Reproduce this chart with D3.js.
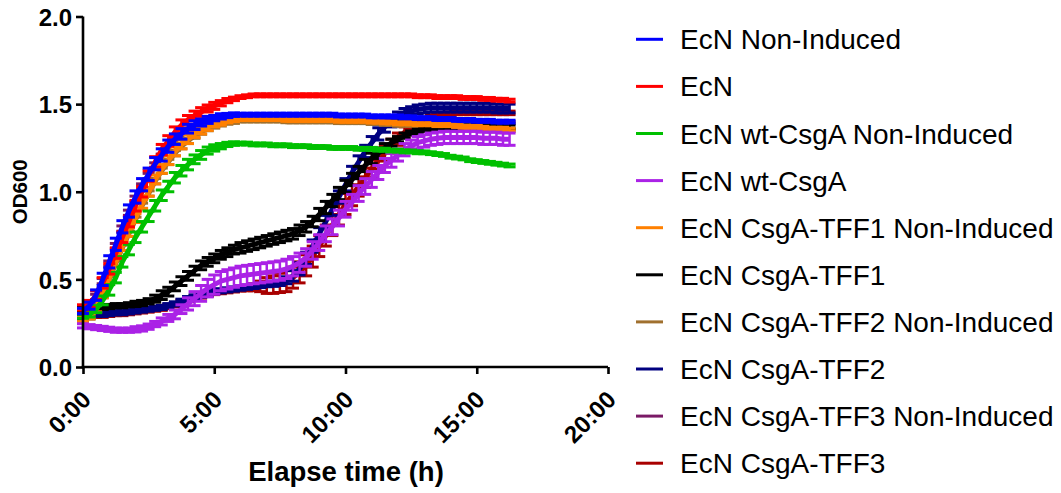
<!DOCTYPE html>
<html>
<head>
<meta charset="utf-8">
<script src="https://cdn.jsdelivr.net/npm/d3@7"></script>
<style>
  html, body { margin: 0; padding: 0; background: #fff; }
  svg { display: block; }
</style>
</head>
<body>
<svg id="chart" width="1061" height="493"></svg>
<script>
// ---------------- DATA ----------------
const hours = [0,0.25,0.5,0.75,1,1.25,1.5,1.75,2,2.25,2.5,2.75,3,3.25,3.5,3.75,4,4.25,4.5,4.75,5,5.25,5.5,5.75,
  6,6.25,6.5,6.75,7,7.25,7.5,7.75,8,8.25,8.5,8.75,9,9.25,9.5,9.75,10,10.25,10.5,10.75,11,11.25,11.5,11.75,
  12,12.25,12.5,12.75,13,13.25,13.5,13.75,14,14.25,14.5,14.75,15,15.25,15.5,15.75,16,16.25];

const seriesNames = ["EcN Non-Induced","EcN","EcN wt-CsgA Non-Induced","EcN wt-CsgA","EcN CsgA-TFF1 Non-Induced",
  "EcN CsgA-TFF1","EcN CsgA-TFF2 Non-Induced","EcN CsgA-TFF2","EcN CsgA-TFF3 Non-Induced","EcN CsgA-TFF3"];
const seriesColors = ["#0000ff","#ff0000","#00c000","#aa22e6","#ff8000","#000000","#a0702e","#000080","#7a1a66","#a80000"];

const ecnNI = [0.32,0.35,0.41,0.50,0.60,0.70,0.80,0.89,0.97,1.04,1.10,1.16,1.21,1.26,1.30,1.33,1.36,1.38,1.395,1.41,1.42,1.43,1.435,1.44,
  1.44,1.44,1.44,1.44,1.44,1.44,1.44,1.44,1.44,1.44,1.44,1.44,1.44,1.44,1.44,1.435,1.435,1.435,1.435,1.435,1.43,1.43,1.43,1.43,
  1.43,1.425,1.425,1.42,1.42,1.42,1.415,1.415,1.415,1.41,1.41,1.41,1.405,1.405,1.405,1.40,1.40,1.40];
const ecnNIErr = [0.015,0.02,0.03,0.035,0.035,0.035,0.035,0.035,0.035,0.035,0.035,0.035,0.035,0.035,0.03,0.03,0.025,0.025,0.02,0.02,0.015,0.015,0.012,0.01,
  0.008,0.008,0.008,0.008,0.008,0.008,0.008,0.008,0.008,0.008,0.008,0.008,0.008,0.008,0.008,0.008,0.008,0.008,0.008,0.008,0.008,0.008,0.008,0.008,
  0.008,0.008,0.008,0.008,0.008,0.008,0.008,0.008,0.008,0.008,0.008,0.008,0.008,0.008,0.008,0.008,0.008,0.008];

const ecn = [0.34,0.36,0.41,0.48,0.56,0.65,0.74,0.83,0.92,1.00,1.09,1.17,1.24,1.29,1.34,1.38,1.41,1.435,1.455,1.475,1.49,1.505,1.52,1.53,
  1.54,1.545,1.55,1.55,1.55,1.55,1.55,1.55,1.55,1.55,1.55,1.55,1.55,1.55,1.55,1.55,1.55,1.55,1.55,1.55,1.55,1.55,1.55,1.55,
  1.55,1.55,1.55,1.545,1.545,1.545,1.54,1.54,1.54,1.54,1.535,1.535,1.535,1.53,1.53,1.525,1.525,1.52];
const ecnErr = [0.015,0.02,0.025,0.03,0.03,0.03,0.03,0.03,0.03,0.03,0.03,0.03,0.03,0.03,0.03,0.03,0.025,0.025,0.025,0.02,0.02,0.015,0.012,0.01,
  0.008,0.008,0.008,0.008,0.008,0.008,0.008,0.008,0.008,0.008,0.008,0.008,0.008,0.008,0.008,0.008,0.008,0.008,0.008,0.008,0.008,0.008,0.008,0.008,
  0.008,0.008,0.008,0.008,0.008,0.008,0.008,0.008,0.008,0.008,0.008,0.008,0.008,0.008,0.008,0.008,0.008,0.008];

const wtNI = [0.29,0.30,0.33,0.38,0.44,0.51,0.60,0.67,0.74,0.80,0.86,0.92,0.98,1.03,1.08,1.12,1.155,1.185,1.21,1.235,1.25,1.26,1.27,1.275,
  1.275,1.275,1.27,1.27,1.27,1.265,1.265,1.265,1.26,1.26,1.26,1.255,1.255,1.255,1.25,1.25,1.25,1.25,1.245,1.245,1.245,1.24,1.24,1.235,
  1.235,1.23,1.23,1.225,1.225,1.22,1.215,1.21,1.20,1.195,1.19,1.18,1.175,1.17,1.165,1.16,1.155,1.15];
const wtNIErr = [0.012,0.015,0.02,0.025,0.03,0.03,0.03,0.03,0.03,0.03,0.03,0.03,0.03,0.03,0.03,0.03,0.03,0.025,0.025,0.02,0.018,0.015,0.012,0.01,
  0.008,0.008,0.008,0.008,0.008,0.008,0.008,0.008,0.008,0.008,0.008,0.008,0.008,0.008,0.008,0.008,0.008,0.008,0.008,0.008,0.008,0.008,0.008,0.008,
  0.008,0.008,0.008,0.008,0.008,0.008,0.008,0.008,0.008,0.008,0.008,0.008,0.008,0.008,0.008,0.008,0.008,0.008];

const wt = [0.235,0.23,0.225,0.22,0.215,0.21,0.21,0.21,0.215,0.22,0.23,0.245,0.26,0.28,0.30,0.33,0.36,0.39,0.42,0.45,0.47,0.49,0.50,0.51,
  0.52,0.525,0.53,0.535,0.54,0.545,0.55,0.56,0.575,0.595,0.625,0.665,0.71,0.76,0.80,0.85,0.90,0.94,0.99,1.03,1.07,1.11,1.15,1.18,
  1.21,1.24,1.26,1.28,1.29,1.30,1.305,1.31,1.31,1.31,1.31,1.31,1.31,1.305,1.305,1.305,1.30,1.30];
const wtErr = [0.012,0.012,0.012,0.012,0.012,0.012,0.012,0.012,0.015,0.015,0.015,0.015,0.02,0.02,0.025,0.025,0.035,0.04,0.045,0.05,
  0.055,0.055,0.055,0.055,0.055,0.055,0.055,0.055,0.055,0.055,0.055,0.055,0.055,0.055,0.05,0.05,
  0.045,0.045,0.045,0.045,0.045,0.045,0.045,0.045,0.045,0.04,0.04,0.04,
  0.035,0.035,0.035,0.035,0.035,0.035,0.035,0.035,0.035,0.035,0.035,0.035,0.035,0.035,0.035,0.035,0.035,0.035];

const tff1NI = [0.27,0.29,0.34,0.42,0.51,0.60,0.69,0.77,0.85,0.93,1.00,1.07,1.13,1.18,1.23,1.27,1.30,1.33,1.35,1.37,1.385,1.395,1.405,1.41,
  1.415,1.415,1.415,1.415,1.415,1.415,1.415,1.41,1.41,1.41,1.41,1.41,1.41,1.41,1.41,1.405,1.405,1.405,1.405,1.405,1.40,1.40,1.395,1.395,
  1.39,1.39,1.39,1.385,1.385,1.385,1.38,1.38,1.38,1.375,1.37,1.37,1.37,1.365,1.36,1.36,1.36,1.355];
const tff1NIErr = [0.012,0.015,0.025,0.025,0.025,0.025,0.025,0.025,0.025,0.025,0.025,0.025,0.025,0.025,0.025,0.025,0.025,0.02,0.02,0.02,0.015,0.015,0.012,0.01,
  0.008,0.008,0.008,0.008,0.008,0.008,0.008,0.008,0.008,0.008,0.008,0.008,0.008,0.008,0.008,0.008,0.008,0.008,0.008,0.008,0.008,0.008,0.008,0.008,
  0.008,0.008,0.008,0.008,0.008,0.008,0.008,0.008,0.008,0.008,0.008,0.008,0.008,0.008,0.008,0.008,0.008,0.008];

const tff1 = [0.33,0.335,0.34,0.34,0.345,0.35,0.35,0.355,0.36,0.365,0.375,0.39,0.41,0.43,0.46,0.49,0.52,0.55,0.58,0.60,0.62,0.64,0.655,0.67,
  0.68,0.69,0.70,0.71,0.72,0.73,0.74,0.75,0.76,0.78,0.80,0.83,0.87,0.91,0.95,0.99,1.03,1.07,1.11,1.15,1.19,1.22,1.25,1.28,
  1.30,1.32,1.335,1.345,1.355,1.36,1.365,1.37,1.37,1.37,1.37,1.37,1.37,1.37,1.37,1.37,1.37,1.37];
const tff1Err = [0.012,0.012,0.012,0.012,0.012,0.012,0.012,0.012,0.015,0.015,0.015,0.02,
  0.025,0.025,0.025,0.025,0.025,0.025,0.025,0.025,0.025,0.025,0.025,0.025,
  0.03,0.03,0.03,0.03,0.03,0.03,0.03,0.03,0.03,0.03,0.03,0.03,
  0.035,0.035,0.035,0.035,0.035,0.035,0.035,0.035,0.03,0.03,0.025,0.02,
  0.015,0.015,0.012,0.012,0.01,0.01,0.01,0.01,0.01,0.01,0.01,0.01,0.01,0.01,0.01,0.01,0.01,0.01];

const tff2NI = [0.27,0.285,0.33,0.41,0.50,0.59,0.68,0.76,0.84,0.92,0.99,1.06,1.12,1.17,1.22,1.26,1.29,1.32,1.34,1.36,1.375,1.385,1.395,1.40,
  1.405,1.405,1.405,1.405,1.405,1.405,1.405,1.40,1.40,1.40,1.40,1.40,1.40,1.40,1.40,1.395,1.395,1.395,1.395,1.395,1.39,1.39,1.385,1.385,
  1.38,1.38,1.38,1.375,1.375,1.375,1.37,1.37,1.37,1.365,1.36,1.36,1.36,1.355,1.35,1.35,1.35,1.35];
const tff2NIErr = [0.012,0.012,0.015,0.015,0.015,0.015,0.015,0.015,0.015,0.015,0.015,0.015,0.015,0.015,0.015,0.015,0.015,0.015,0.012,0.012,0.012,0.01,0.01,0.01,
  0.006,0.006,0.006,0.006,0.006,0.006,0.006,0.006,0.006,0.006,0.006,0.006,0.006,0.006,0.006,0.006,0.006,0.006,0.006,0.006,0.006,0.006,0.006,0.006,
  0.006,0.006,0.006,0.006,0.006,0.006,0.006,0.006,0.006,0.006,0.006,0.006,0.006,0.006,0.006,0.006,0.006,0.006];

const tff2 = [0.29,0.295,0.30,0.30,0.305,0.31,0.31,0.315,0.32,0.325,0.33,0.335,0.34,0.35,0.36,0.375,0.39,0.40,0.41,0.42,0.43,0.435,0.44,0.445,
  0.45,0.455,0.46,0.465,0.47,0.475,0.48,0.495,0.52,0.56,0.62,0.69,0.76,0.83,0.90,0.97,1.04,1.11,1.17,1.23,1.28,1.33,1.37,1.40,
  1.43,1.45,1.46,1.47,1.475,1.48,1.48,1.48,1.48,1.48,1.48,1.48,1.48,1.48,1.48,1.475,1.475,1.475];
const tff2Err = [0.012,0.012,0.012,0.012,0.012,0.012,0.012,0.012,0.012,0.012,0.012,0.012,0.012,0.012,0.012,0.012,
  0.012,0.012,0.012,0.012,0.012,0.012,0.012,0.012,0.012,0.012,0.012,0.012,0.012,0.015,0.015,0.02,
  0.03,0.035,0.035,0.035,0.035,0.035,0.035,0.035,0.035,0.035,0.035,0.035,0.035,0.035,0.03,0.03,
  0.025,0.025,0.025,0.025,0.025,0.025,0.025,0.025,0.025,0.025,0.025,0.025,0.025,0.025,0.025,0.025,0.025,0.025];

const tff3NI = [0.31,0.34,0.40,0.49,0.59,0.69,0.79,0.88,0.96,1.03,1.09,1.15,1.20,1.25,1.29,1.32,1.35,1.37,1.385,1.40,1.41,1.42,1.43,1.435,
  1.435,1.435,1.435,1.435,1.435,1.435,1.435,1.435,1.435,1.435,1.435,1.435,1.435,1.435,1.435,1.43,1.43,1.43,1.43,1.43,1.425,1.425,1.425,1.425,
  1.425,1.42,1.42,1.415,1.415,1.415,1.41,1.41,1.41,1.405,1.405,1.405,1.40,1.40,1.40,1.395,1.395,1.395];
const tff3NIErr = [0.012,0.012,0.015,0.015,0.015,0.015,0.015,0.015,0.015,0.015,0.015,0.015,0.015,0.015,0.015,0.015,0.015,0.015,0.012,0.012,0.012,0.01,0.01,0.01,
  0.006,0.006,0.006,0.006,0.006,0.006,0.006,0.006,0.006,0.006,0.006,0.006,0.006,0.006,0.006,0.006,0.006,0.006,0.006,0.006,0.006,0.006,0.006,0.006,
  0.006,0.006,0.006,0.006,0.006,0.006,0.006,0.006,0.006,0.006,0.006,0.006,0.006,0.006,0.006,0.006,0.006,0.006];

const tff3 = [0.285,0.29,0.295,0.295,0.30,0.305,0.305,0.31,0.315,0.32,0.325,0.33,0.335,0.345,0.355,0.37,0.385,0.395,0.405,0.415,0.425,0.43,0.435,0.44,
  0.445,0.45,0.455,0.46,0.465,0.47,0.48,0.49,0.51,0.54,0.58,0.63,0.69,0.75,0.81,0.87,0.93,0.98,1.03,1.08,1.13,1.18,1.22,1.26,
  1.30,1.34,1.37,1.395,1.41,1.425,1.435,1.44,1.445,1.45,1.45,1.45,1.45,1.45,1.45,1.45,1.45,1.45];
const tff3Err = [0.012,0.012,0.012,0.012,0.012,0.012,0.012,0.012,0.012,0.012,0.012,0.012,0.012,0.012,0.012,0.012,0.012,0.012,0.012,0.012,0.012,0.012,0.012,0.012,0.012,0.015,0.02,0.03,
  0.045,0.05,0.055,0.06,0.06,0.06,0.06,0.06,0.06,0.06,0.06,0.06,0.06,0.06,0.055,0.055,0.05,0.05,0.045,0.04,
  0.035,0.03,0.025,0.02,0.015,0.015,0.012,0.012,
  0.01,0.01,0.01,0.01,0.01,0.01,0.01,0.01,0.01,0.01];

const xTicks = [0,5,10,15,20];
const xTickLabels = ["0:00","5:00","10:00","15:00","20:00"];
const yTicks = [0,0.5,1.0,1.5,2.0];
const yTickLabels = ["0.0","0.5","1.0","1.5","2.0"];

// ---------------- BUILD ----------------
const means = [ecnNI, ecn, wtNI, wt, tff1NI, tff1, tff2NI, tff2, tff3NI, tff3];
const errs  = [ecnNIErr, ecnErr, wtNIErr, wtErr, tff1NIErr, tff1Err, tff2NIErr, tff2Err, tff3NIErr, tff3Err];
const series = seriesNames.map((name, i) => ({
  name, color: seriesColors[i],
  points: hours.map((h, j) => ({ h, v: means[i][j], e: errs[i][j] }))
}));

const svg = d3.select("#chart");
svg.append("rect").attr("width", 1061).attr("height", 493).attr("fill", "#fff");

const x = d3.scaleLinear().domain([0, 20]).range([83, 608]);
const y = d3.scaleLinear().domain([0, 2]).range([367, 16.5]);

const FONT = "'Liberation Sans', Arial, Helvetica, sans-serif";

// series: drawn in reverse so first series ends on top
const plot = svg.append("g");
const line = d3.line().x(d => x(d.h)).y(d => y(d.v));
const capW = 6;
series.slice().reverse().forEach(s => {
  const g = plot.append("g").attr("stroke", s.color).attr("fill", "none");
  const eb = g.selectAll("g.eb").data(s.points).join("g").attr("class", "eb");
  eb.append("line")
    .attr("x1", d => x(d.h)).attr("x2", d => x(d.h))
    .attr("y1", d => y(d.v - d.e)).attr("y2", d => y(d.v + d.e))
    .attr("stroke-width", 2.5);
  eb.append("line")
    .attr("x1", d => x(d.h) - capW).attr("x2", d => x(d.h) + capW)
    .attr("y1", d => y(d.v + d.e)).attr("y2", d => y(d.v + d.e))
    .attr("stroke-width", 3);
  eb.append("line")
    .attr("x1", d => x(d.h) - capW).attr("x2", d => x(d.h) + capW)
    .attr("y1", d => y(d.v - d.e)).attr("y2", d => y(d.v - d.e))
    .attr("stroke-width", 3);
  g.append("path").datum(s.points).attr("d", line).attr("stroke-width", 5)
    .attr("stroke-linejoin", "round");
});

// axes
const yAxis = svg.append("g").attr("transform", `translate(${x(0)},0)`)
  .call(d3.axisLeft(y).tickValues(yTicks).tickFormat((d, i) => yTickLabels[i])
    .tickSize(7).tickSizeOuter(0).tickPadding(4));
const xAxis = svg.append("g").attr("transform", `translate(0,${y(0)})`)
  .call(d3.axisBottom(x).tickValues(xTicks).tickFormat((d, i) => xTickLabels[i])
    .tickSize(7).tickSizeOuter(0));
[yAxis, xAxis].forEach(a => {
  a.select(".domain").attr("stroke", "#000").attr("stroke-width", 2.6);
  a.selectAll(".tick line").attr("stroke", "#000").attr("stroke-width", 2.6);
  a.selectAll("text").attr("fill", "#000").style("font-family", FONT)
    .style("font-weight", "bold").style("font-size", "24px");
});
xAxis.select(".domain").attr("d", `M${x(0) - 1.3},0H${x(20)}`);
yAxis.select(".domain").attr("d", `M0,${y(2)}V${y(0) + 1.3}`);
xAxis.selectAll(".tick text")
  .attr("x", 0).attr("y", 0).attr("dy", 0)
  .attr("text-anchor", "end")
  .attr("transform", "translate(9,34) rotate(-45)");
yAxis.selectAll(".tick text").attr("dy", "0.36em");

// axis titles
svg.append("text")
  .attr("transform", `translate(27,${(y(0) + y(2)) / 2}) rotate(-90)`)
  .attr("text-anchor", "middle")
  .style("font-family", FONT).style("font-weight", "bold").style("font-size", "20.5px")
  .text("OD600");
svg.append("text")
  .attr("x", 346).attr("y", 481)
  .attr("text-anchor", "middle")
  .style("font-family", FONT).style("font-weight", "bold").style("font-size", "27.5px")
  .text("Elapse time (h)");

// legend
const legend = svg.append("g");
const rowY = i => 39.3 + i * 47.1;
series.forEach((s, i) => {
  legend.append("line")
    .attr("x1", 636).attr("x2", 663).attr("y1", rowY(i)).attr("y2", rowY(i))
    .attr("stroke", s.color).attr("stroke-width", 3);
  legend.append("text")
    .attr("x", 680).attr("y", rowY(i)).attr("dy", "0.36em")
    .style("font-family", FONT).style("font-size", "28px").attr("fill", "#000")
    .text(s.name);
});
</script>
</body>
</html>
